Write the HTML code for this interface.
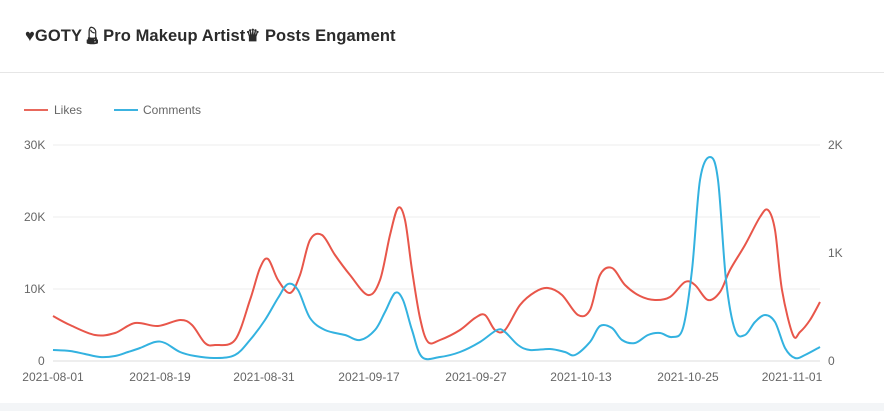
<!DOCTYPE html>
<html><head><meta charset="utf-8"><style>
body{margin:0;width:884px;height:411px;background:#fff;font-family:"Liberation Sans","Noto Sans CJK SC",sans-serif;overflow:hidden;position:relative}
.title{position:absolute;left:25px;top:26px;font-size:16.5px;font-weight:bold;color:#2b2b2b;letter-spacing:0.1px}
.hr{position:absolute;left:0;top:72px;width:884px;height:1px;background:#e6e6e6}
.foot{position:absolute;left:0;top:403px;width:884px;height:8px;background:#f3f5f7}
svg{position:absolute;left:0;top:0}
text{font-family:"Liberation Sans",sans-serif;font-size:12px;fill:#666}
</style></head><body>
<div class="title">♥GOTY&#x1F484;&#xFE0E;Pro Makeup Artist♛ Posts Engament</div>
<div class="hr"></div>
<div class="foot"></div>
<svg width="884" height="411" id="s">
<line x1="24" y1="110" x2="48" y2="110" stroke="#e8685c" stroke-width="2"/>
<text x="54" y="114">Likes</text>
<line x1="114" y1="110" x2="138" y2="110" stroke="#3cb3e0" stroke-width="2"/>
<text x="143" y="114">Comments</text>
<line x1="53" y1="145" x2="820" y2="145" stroke="#eee"/>
<line x1="53" y1="217" x2="820" y2="217" stroke="#eee"/>
<line x1="53" y1="289" x2="820" y2="289" stroke="#eee"/>
<line x1="53" y1="361" x2="820" y2="361" stroke="#ddd"/>
<text x="24" y="149">30K</text><text x="24" y="221">20K</text><text x="24" y="293">10K</text><text x="38" y="365">0</text>
<text x="828" y="149">2K</text><text x="828" y="257">1K</text><text x="828" y="365">0</text>
<g text-anchor="middle">
<text x="53" y="381">2021-08-01</text><text x="160" y="381">2021-08-19</text><text x="264" y="381">2021-08-31</text><text x="369" y="381">2021-09-17</text><text x="476" y="381">2021-09-27</text><text x="581" y="381">2021-10-13</text><text x="688" y="381">2021-10-25</text><text x="792" y="381">2021-11-01</text>
</g>
<path id="r" fill="none" stroke="#e8564a" stroke-width="2"/>
<path id="b" fill="none" stroke="#33b2e0" stroke-width="2"/>
</svg>
<script>
function sm(p){let d="M"+p[0][0]+","+p[0][1];for(let i=0;i<p.length-1;i++){const a=p[i-1]||p[i],b=p[i],c=p[i+1],e=p[i+2]||c;d+=" C"+(b[0]+(c[0]-a[0])/6)+","+(b[1]+(c[1]-a[1])/6)+" "+(c[0]-(e[0]-b[0])/6)+","+(c[1]-(e[1]-b[1])/6)+" "+c[0]+","+c[1];}return d;}
const R=[[53,316],[70,325],[95,335],[115,333],[135,323],[158,326],[180,320],[192,325],[205,343],[215,345],[235,340],[250,300],[260,268],[268,259],[278,280],[290,293],[300,275],[310,240],[322,235],[335,255],[350,275],[368,295],[380,280],[390,235],[398,208],[405,220],[412,270],[420,318],[428,342],[440,340],[460,330],[475,318],[485,315],[495,330],[505,330],[520,305],[535,292],[548,288],[562,295],[578,315],[590,310],[600,275],[612,268],[625,285],[640,296],[655,300],[670,297],[685,282],[695,285],[708,300],[720,292],[730,270],[745,245],[760,217],[768,210],[775,230],[782,290],[793,335],[800,332],[810,320],[820,302]];
const B=[[53,350],[70,351],[85,354],[100,357],[115,356],[128,352],[140,348],[155,342],[165,343],[180,352],[195,356],[215,358],[235,355],[250,340],[265,320],[278,298],[288,284],[298,290],[310,318],[325,330],[345,335],[360,340],[375,330],[385,312],[395,293],[403,300],[412,330],[422,357],[440,357],[460,352],[480,342],[497,330],[505,332],[518,345],[530,350],[550,349],[565,352],[575,355],[590,342],[600,326],[612,328],[622,340],[635,343],[648,335],[660,333],[672,337],[683,328],[692,270],[700,180],[710,157],[718,180],[726,280],[735,330],[745,335],[755,322],[765,315],[775,322],[785,348],[795,358],[805,355],[820,347]];
document.getElementById("r").setAttribute("d",sm(R));
document.getElementById("b").setAttribute("d",sm(B));
</script>
</body></html>
